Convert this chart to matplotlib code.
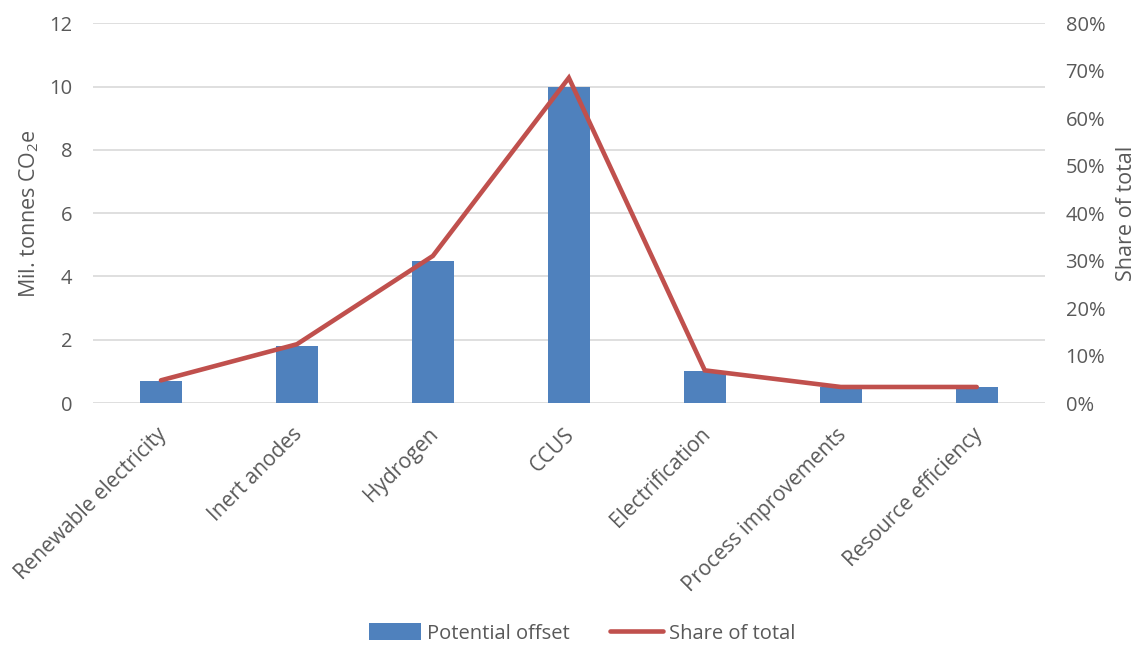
import matplotlib
matplotlib.use("Agg")
import matplotlib.pyplot as plt
from matplotlib.ticker import FuncFormatter, MultipleLocator
from matplotlib.transforms import ScaledTranslation
import numpy as np

categories = ["Renewable electricity", "Inert anodes", "Hydrogen", "CCUS",
              "Electrification", "Process improvements", "Resource efficiency"]
potential_offset = [0.7, 1.8, 4.5, 10.0, 1.0, 0.5, 0.5]
share_of_total = [4.8, 12.4, 31.0, 68.5, 6.9, 3.4, 3.4]

bar_color = "#4F81BD"
line_color = "#C0504D"
text_color = "#595959"
grid_color = "#D9D9D9"

plt.rcParams["font.family"] = ["Open Sans", "DejaVu Sans"]
plt.rcParams["mathtext.fontset"] = "custom"
plt.rcParams["mathtext.rm"] = "Open Sans"
plt.rcParams["mathtext.it"] = "Open Sans:italic"

fig = plt.figure(figsize=(11.48, 6.45), dpi=100)
ax = fig.add_axes([0.081, 0.375, 0.829, 0.589])
ax2 = ax.twinx()

x = np.arange(len(categories))
bars = ax.bar(x, potential_offset, width=0.31, color=bar_color, zorder=2,
              label="Potential offset")
line, = ax2.plot(x, share_of_total, color=line_color, lw=3.3,
                 solid_capstyle="round", solid_joinstyle="miter",
                 label="Share of total", zorder=3)

ax.set_xlim(-0.5, len(categories) - 0.5)
ax.set_ylim(0, 12)
ax.yaxis.set_major_locator(MultipleLocator(2))
ax2.set_ylim(0, 80)
ax2.yaxis.set_major_locator(MultipleLocator(10))
ax2.yaxis.set_major_formatter(FuncFormatter(lambda v, p: f"{v:.0f}%"))

ax.grid(axis="y", color=grid_color, lw=1.2, zorder=0)
ax.set_axisbelow(True)
for a in (ax, ax2):
    for s in a.spines.values():
        s.set_visible(False)
    a.tick_params(length=0, labelsize=14.5, colors=text_color)
ax.tick_params(axis="y", pad=15)
ax2.tick_params(axis="y", pad=15)

ax.set_xticks(x)
ax.set_xticklabels(categories, rotation=45, ha="right", va="top",
                   rotation_mode="anchor", fontsize=15)
ax.tick_params(axis="x", pad=15)
# pull the slanted labels slightly left of their ticks
shift = ScaledTranslation(-5 / 100, 0, fig.dpi_scale_trans)
for lbl in ax.get_xticklabels():
    lbl.set_transform(lbl.get_transform() + shift)

ax.set_ylabel("Mil. tonnes CO$_2$e", fontsize=15.5, color=text_color,
              labelpad=6)
ax2.set_ylabel("Share of total", fontsize=15.5, color=text_color,
               labelpad=8)

fig.legend([bars, line], ["Potential offset", "Share of total"],
           loc="center", bbox_to_anchor=(0.507, 0.018), ncol=2,
           frameon=False, fontsize=14.5, labelcolor=text_color,
           handlelength=2.6, handleheight=0.9, columnspacing=2.0,
           handletextpad=0.3)

fig.savefig("out.png", dpi=100)
